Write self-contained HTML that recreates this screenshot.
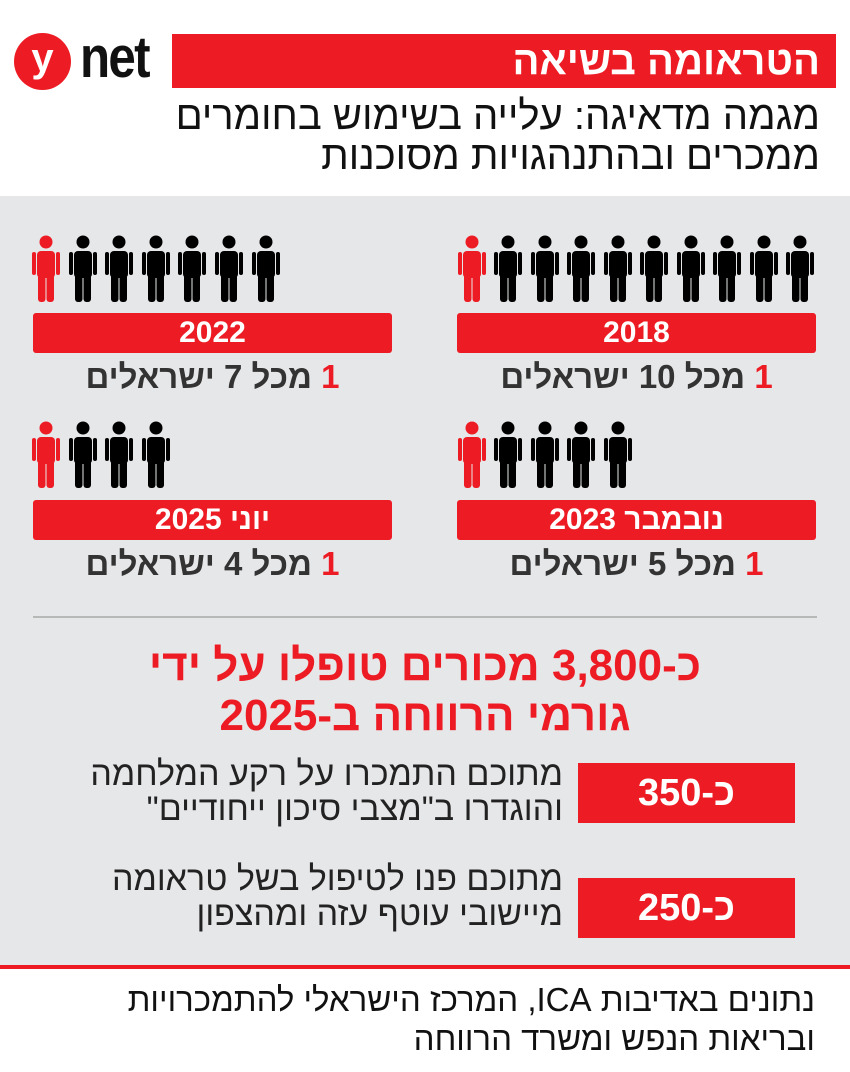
<!DOCTYPE html>
<html><head><meta charset="utf-8"><style>
*{margin:0;padding:0;box-sizing:border-box}
body{width:850px;height:1072px;background:#fff;position:relative;overflow:hidden;font-family:"Liberation Sans","DejaVu Sans",sans-serif}
.a{position:absolute}
.rt{direction:rtl;text-align:right;white-space:nowrap}
.bar{position:absolute;background:#ed1c24;border-radius:3px;color:#fff;font-weight:bold;font-size:30px;text-align:center;line-height:40px;direction:rtl}
.cap{position:absolute;font-weight:bold;font-size:33px;color:#333;direction:rtl;text-align:center;white-space:nowrap}
.cap b{color:#ed1c24}
.red{position:absolute;background:#ed1c24;color:#fff;font-weight:bold;font-size:38px;text-align:center;direction:rtl}
.desc{position:absolute;right:287px;font-size:34px;line-height:35px;color:#222;direction:rtl;text-align:right;white-space:nowrap}
</style></head><body>
<svg width="0" height="0" style="position:absolute"><defs>
<g id="p"><circle cx="14" cy="7" r="6.5"/><rect x="5" y="16" width="18" height="27" rx="4"/><rect x="0" y="17" width="4" height="23" rx="2"/><rect x="24" y="17" width="4" height="23" rx="2"/><rect x="6" y="38" width="7.5" height="29" rx="3"/><rect x="14.5" y="38" width="7.5" height="29" rx="3"/></g>
</defs></svg>

<div class="a" style="left:14px;top:33px;width:57px;height:57px;border-radius:50%;background:#ed1c24;color:#fff;font-weight:bold;font-size:40px;text-align:center;line-height:50px">y</div>
<div class="a" style="left:80px;top:24px;font-size:58px;font-weight:bold;color:#111;letter-spacing:-2px;transform:scaleX(.85);transform-origin:left">net</div>
<div class="a rt" style="left:172px;top:34px;width:664px;height:54px;background:#ed1c24;color:#fff;font-weight:bold;font-size:40px;line-height:54px;padding-right:16px">הטראומה בשיאה</div>
<div class="a rt" style="right:30px;top:96px;font-size:40px;line-height:40px;color:#111">מגמה מדאיגה: עלייה בשימוש בחומרים<br>ממכרים ובהתנהגויות מסוכנות</div>

<div class="a" style="left:0;top:196px;width:850px;height:770px;background:#e6e7e9"></div>

<svg class="a" style="left:0;top:0" width="850" height="1072">
<g fill="#ed1c24"><use href="#p" x="458" y="235"/><use href="#p" x="32" y="235"/><use href="#p" x="458" y="421"/><use href="#p" x="32" y="421"/></g>
<g fill="#000">
<use href="#p" x="494" y="235"/><use href="#p" x="531" y="235"/><use href="#p" x="567" y="235"/><use href="#p" x="604" y="235"/><use href="#p" x="640" y="235"/><use href="#p" x="677" y="235"/><use href="#p" x="713" y="235"/><use href="#p" x="750" y="235"/><use href="#p" x="786" y="235"/>
<use href="#p" x="69" y="235"/><use href="#p" x="105" y="235"/><use href="#p" x="142" y="235"/><use href="#p" x="178" y="235"/><use href="#p" x="215" y="235"/><use href="#p" x="252" y="235"/>
<use href="#p" x="494" y="421"/><use href="#p" x="531" y="421"/><use href="#p" x="567" y="421"/><use href="#p" x="604" y="421"/>
<use href="#p" x="69" y="421"/><use href="#p" x="105" y="421"/><use href="#p" x="142" y="421"/>
</g>
<line x1="33" y1="617" x2="817" y2="617" stroke="#888" stroke-width="1"/>
<rect x="0" y="965" width="850" height="4" fill="#ed1c24"/>
</svg>

<div class="bar" style="left:457px;top:313px;width:359px;height:40px">2018</div>
<div class="bar" style="left:33px;top:313px;width:359px;height:40px">2022</div>
<div class="bar" style="left:457px;top:500px;width:359px;height:40px">נובמבר 2023</div>
<div class="bar" style="left:33px;top:500px;width:359px;height:40px">יוני 2025</div>
<div class="cap" style="left:457px;width:359px;top:358px"><b>1</b> מכל 10 ישראלים</div>
<div class="cap" style="left:33px;width:359px;top:358px"><b>1</b> מכל 7 ישראלים</div>
<div class="cap" style="left:457px;width:359px;top:545px"><b>1</b> מכל 5 ישראלים</div>
<div class="cap" style="left:33px;width:359px;top:545px"><b>1</b> מכל 4 ישראלים</div>

<div class="a" style="left:0;width:850px;top:641px;text-align:center;direction:rtl;color:#ed1c24;font-weight:bold;font-size:44px;line-height:50px">כ-3,800 מכורים טופלו על ידי<br>גורמי הרווחה ב-2025</div>

<div class="red" style="left:578px;top:763px;width:217px;height:60px;line-height:60px">כ-350</div>
<div class="red" style="left:578px;top:878px;width:217px;height:60px;line-height:60px">כ-250</div>
<div class="desc" style="top:757px">מתוכם התמכרו על רקע המלחמה<br>והוגדרו ב"מצבי סיכון ייחודיים"</div>
<div class="desc" style="top:862px">מתוכם פנו לטיפול בשל טראומה<br>מיישובי עוטף עזה ומהצפון</div>

<div class="a rt" style="right:35px;top:980px;font-size:33px;line-height:39px;color:#111">נתונים באדיבות ICA, המרכז הישראלי להתמכרויות<br>ובריאות הנפש ומשרד הרווחה</div>
</body></html>
